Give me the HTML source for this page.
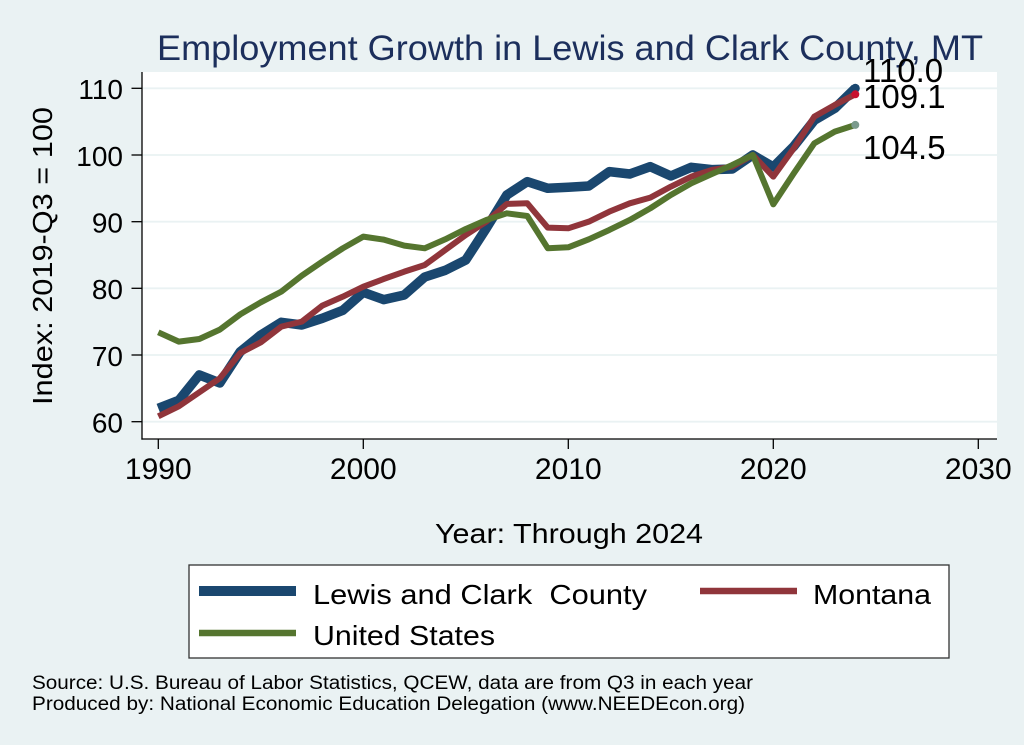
<!DOCTYPE html>
<html>
<head>
<meta charset="utf-8">
<style>
  html, body { margin: 0; padding: 0; background: #eaf2f3; }
  svg { display: block; font-family: "Liberation Sans", Arial, sans-serif; }
  .pre { white-space: pre; }
</style>
</head>
<body>
<svg width="1024" height="745" viewBox="0 0 1024 745" xmlns="http://www.w3.org/2000/svg">
  <rect x="0" y="0" width="1024" height="745" fill="#eaf2f3"/>

  <!-- Title -->
  <text x="157" y="60" font-size="35" fill="#1c2f5c" textLength="826" lengthAdjust="spacingAndGlyphs">Employment Growth in Lewis and Clark County, MT</text>

  <!-- Plot region -->
  <rect x="142" y="72" width="855" height="367" fill="#ffffff"/>

  <!-- Gridlines -->
  <g stroke="#eaf2f3" stroke-width="1.8">
    <line x1="142" x2="997" y1="88.3" y2="88.3"/>
    <line x1="142" x2="997" y1="155" y2="155"/>
    <line x1="142" x2="997" y1="221.7" y2="221.7"/>
    <line x1="142" x2="997" y1="288.3" y2="288.3"/>
    <line x1="142" x2="997" y1="355" y2="355"/>
    <line x1="142" x2="997" y1="421.7" y2="421.7"/>
  </g>

  <!-- Series -->
  <g transform="translate(158.3,88.3) scale(20.5,-6.667) translate(-1990,-110)" fill="none" stroke-linejoin="round" stroke-linecap="butt">
    <polyline vector-effect="non-scaling-stroke" stroke="#1a476f" stroke-width="9.5"
      points="1990,62.0 1991,63.2 1992,67.0 1993,65.8 1994,70.5 1995,73.0 1996,74.9 1997,74.5 1998,75.5 1999,76.7 2000,79.4 2001,78.3 2002,79.0 2003,81.7 2004,82.7 2005,84.25 2006,89.0 2007,94.0 2008,96.0 2009,95.0 2010,95.15 2011,95.35 2012,97.5 2013,97.15 2014,98.25 2015,96.85 2016,98.15 2017,97.8 2018,97.9 2019,100.0 2020,98.2 2021,101.3 2022,105.2 2023,107.0 2024,110.0"/>
    <polyline vector-effect="non-scaling-stroke" stroke="#90353b" stroke-width="6"
      points="1990,60.8 1991,62.3 1992,64.4 1993,66.5 1994,70.3 1995,71.9 1996,74.25 1997,75.0 1998,77.4 1999,78.75 2000,80.25 2001,81.4 2002,82.5 2003,83.5 2004,85.75 2005,88.0 2006,90.0 2007,92.65 2008,92.75 2009,89.1 2010,89.0 2011,90.0 2012,91.5 2013,92.75 2014,93.6 2015,95.25 2016,96.75 2017,97.75 2018,98.25 2019,100.0 2020,96.75 2021,101.0 2022,105.75 2023,107.5 2024,109.1"/>
    <polyline vector-effect="non-scaling-stroke" stroke="#55752f" stroke-width="6"
      points="1990,73.4 1991,72.0 1992,72.4 1993,73.8 1994,76.1 1995,77.9 1996,79.5 1997,81.9 1998,84.0 1999,86.0 2000,87.75 2001,87.3 2002,86.4 2003,86.0 2004,87.35 2005,88.9 2006,90.25 2007,91.25 2008,90.85 2009,86.0 2010,86.15 2011,87.35 2012,88.75 2013,90.25 2014,92.0 2015,94.0 2016,95.75 2017,97.15 2018,98.5 2019,100.0 2020,92.6 2021,97.25 2022,101.75 2023,103.5 2024,104.5"/>
  </g>

  <!-- End markers -->
  <circle cx="855.3" cy="88.3" r="4.5" fill="#1a476f"/>
  <circle cx="855.3" cy="94.3" r="4" fill="#c8102e"/>
  <circle cx="855.3" cy="124.9" r="4" fill="#7a9a8c"/>

  <!-- Marker labels -->
  <g font-size="33" fill="#000">
    <text x="863" y="82">110.0</text>
    <text x="863" y="108">109.1</text>
    <text x="863" y="159">104.5</text>
  </g>

  <!-- Axes -->
  <g stroke="#000" stroke-width="1.3">
    <line x1="142" y1="72" x2="142" y2="439.6"/>
    <line x1="141.4" y1="439" x2="997" y2="439"/>
    <!-- y ticks -->
    <line x1="131.5" x2="142" y1="88.3" y2="88.3"/>
    <line x1="131.5" x2="142" y1="155" y2="155"/>
    <line x1="131.5" x2="142" y1="221.7" y2="221.7"/>
    <line x1="131.5" x2="142" y1="288.3" y2="288.3"/>
    <line x1="131.5" x2="142" y1="355" y2="355"/>
    <line x1="131.5" x2="142" y1="421.7" y2="421.7"/>
    <!-- x ticks -->
    <line x1="158.3" x2="158.3" y1="439" y2="449"/>
    <line x1="363.3" x2="363.3" y1="439" y2="449"/>
    <line x1="568.3" x2="568.3" y1="439" y2="449"/>
    <line x1="773.3" x2="773.3" y1="439" y2="449"/>
    <line x1="978.3" x2="978.3" y1="439" y2="449"/>
  </g>

  <!-- Y tick labels -->
  <g font-size="28" fill="#000" text-anchor="end">
    <text x="123" y="99">110</text>
    <text x="123" y="166">100</text>
    <text x="123" y="232.5">90</text>
    <text x="123" y="299">80</text>
    <text x="123" y="366">70</text>
    <text x="123" y="432.5">60</text>
  </g>

  <!-- X tick labels -->
  <g font-size="30" fill="#000" text-anchor="middle">
    <text x="158.3" y="479">1990</text>
    <text x="363.3" y="479">2000</text>
    <text x="568.3" y="479">2010</text>
    <text x="773.3" y="479">2020</text>
    <text x="978.3" y="479">2030</text>
  </g>

  <!-- Axis titles -->
  <text transform="translate(52,256) rotate(-90)" x="0" y="0" font-size="28" fill="#000" text-anchor="middle" textLength="298" lengthAdjust="spacingAndGlyphs">Index: 2019-Q3 = 100</text>
  <text x="435" y="543" font-size="28" fill="#000" textLength="268" lengthAdjust="spacingAndGlyphs">Year: Through 2024</text>

  <!-- Legend -->
  <rect x="189" y="565" width="760" height="93" fill="#ffffff" stroke="#333" stroke-width="1.3"/>
  <line x1="199" x2="296" y1="591" y2="591" stroke="#1a476f" stroke-width="10"/>
  <line x1="700" x2="797" y1="591" y2="591" stroke="#90353b" stroke-width="6.5"/>
  <line x1="199" x2="296" y1="633" y2="633" stroke="#55752f" stroke-width="6.5"/>
  <g font-size="28" fill="#000">
    <text class="pre" x="313" y="604" textLength="334" lengthAdjust="spacingAndGlyphs">Lewis and Clark  County</text>
    <text x="813" y="604" textLength="118" lengthAdjust="spacingAndGlyphs">Montana</text>
    <text x="313" y="645" textLength="182" lengthAdjust="spacingAndGlyphs">United States</text>
  </g>

  <!-- Footer -->
  <g font-size="19" fill="#000">
    <text x="32" y="689" textLength="721" lengthAdjust="spacingAndGlyphs">Source: U.S. Bureau of Labor Statistics, QCEW, data are from Q3 in each year</text>
    <text x="32" y="710" textLength="713" lengthAdjust="spacingAndGlyphs">Produced by: National Economic Education Delegation (www.NEEDEcon.org)</text>
  </g>
</svg>
</body>
</html>
